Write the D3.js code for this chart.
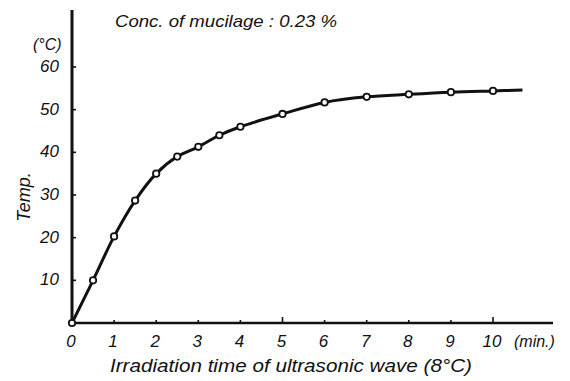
<!DOCTYPE html>
<html>
<head>
<meta charset="utf-8">
<script src="https://cdn.jsdelivr.net/npm/d3@7"></script>
<style>
  body { margin: 0; background: #fff; }
  text { font-family: "Liberation Sans", "DejaVu Sans", sans-serif; font-style: italic; fill: #111; }
</style>
</head>
<body>
<script>
'use strict';

// readings
const times = [0, 0.5, 1, 1.5, 2, 2.5, 3, 3.5, 4, 5, 6, 7, 8, 9, 10];
const temps = [0, 10, 20.3, 28.7, 35, 39, 41.3, 44, 46, 49, 51.7, 53, 53.6, 54.1, 54.4];
// the drawn curve runs a bit past the last reading
const tailTime = [10.7];
const tailTemp = [54.6];

const xTicks = [0, 1, 2, 3, 4, 5, 6, 7, 8, 9, 10];
const yTicks = [10, 20, 30, 40, 50, 60];

function loaded() {
  const width = 570, height = 381;

  const x = d3.scaleLinear().domain([0, 10]).range([72, 493]);
  const y = d3.scaleLinear().domain([0, 60]).range([323, 67]);

  const svg = d3.select('body').append('svg')
    .attr('width', width)
    .attr('height', height);

  // axes lines
  svg.append('line')
    .attr('x1', x(0)).attr('x2', x(0))
    .attr('y1', 10).attr('y2', y(0) + 1)
    .attr('stroke', '#111').attr('stroke-width', 3);
  svg.append('line')
    .attr('x1', x(0) - 1).attr('x2', 553)
    .attr('y1', y(0)).attr('y2', y(0))
    .attr('stroke', '#111').attr('stroke-width', 2.5);

  // x ticks (pointing up), 5 and 10 a bit longer
  svg.selectAll('.xt')
    .data(xTicks.filter(d => d > 0))
    .join('line')
      .attr('x1', d => x(d)).attr('x2', d => x(d))
      .attr('y1', y(0))
      .attr('y2', d => y(0) - (d % 5 === 0 ? 6 : 3))
      .attr('stroke', '#111').attr('stroke-width', 1.6);

  svg.selectAll('.xl')
    .data(xTicks)
    .join('text')
      .attr('x', d => x(d) - 1)
      .attr('y', 347)
      .attr('text-anchor', 'middle')
      .attr('font-size', 17)
      .text(d => d);

  svg.append('text')
    .attr('x', 514).attr('y', 347)
    .attr('font-size', 16)
    .text('(min.)');

  // y ticks (pointing right)
  svg.selectAll('.yt')
    .data(yTicks)
    .join('line')
      .attr('x1', x(0)).attr('x2', x(0) + 4)
      .attr('y1', d => y(d)).attr('y2', d => y(d))
      .attr('stroke', '#111').attr('stroke-width', 1.6);

  svg.selectAll('.yl')
    .data(yTicks)
    .join('text')
      .attr('x', 59)
      .attr('y', d => y(d) + 5)
      .attr('text-anchor', 'end')
      .attr('font-size', 17)
      .text(d => d);

  svg.append('text')
    .attr('x', 33).attr('y', 50)
    .attr('font-size', 16)
    .text('(°C)');

  svg.append('text')
    .attr('transform', 'translate(30,197) rotate(-90)')
    .attr('text-anchor', 'middle')
    .attr('font-size', 18)
    .text('Temp.');

  svg.append('text')
    .attr('x', 115).attr('y', 27)
    .attr('font-size', 17)
    .attr('textLength', 222)
    .attr('lengthAdjust', 'spacingAndGlyphs')
    .text('Conc. of mucilage : 0.23 %');

  svg.append('text')
    .attr('x', 110).attr('y', 372)
    .attr('font-size', 19)
    .attr('textLength', 362)
    .attr('lengthAdjust', 'spacingAndGlyphs')
    .text('Irradiation time of ultrasonic wave (8°C)');

  // curve
  const pts = times.map((t, i) => [t, temps[i]])
    .concat(tailTime.map((t, i) => [t, tailTemp[i]]));

  const line = d3.line()
    .x(d => x(d[0]))
    .y(d => y(d[1]))
    .curve(d3.curveCatmullRom.alpha(0.5));

  svg.append('path')
    .attr('d', line(pts))
    .attr('fill', 'none')
    .attr('stroke', '#111')
    .attr('stroke-width', 3);

  svg.selectAll('.pt')
    .data(times.map((t, i) => [t, temps[i]]))
    .join('circle')
      .attr('cx', d => x(d[0]))
      .attr('cy', d => y(d[1]))
      .attr('r', 3.2)
      .attr('fill', '#fff')
      .attr('stroke', '#111')
      .attr('stroke-width', 1.8);
}

document.addEventListener('DOMContentLoaded', loaded);
</script>
</body>
</html>
